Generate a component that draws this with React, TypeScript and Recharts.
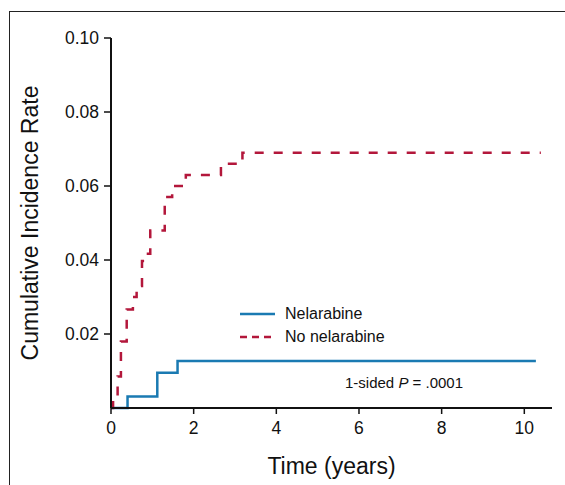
import { LineChart, Line, XAxis, YAxis } from "recharts";

// time in years, cumulative incidence
const nelarabineTime = [0, 0.4, 1.12, 1.61, 10.28];
const nelarabineRate = [0, 0.0031, 0.0095, 0.0127, 0.0127];

const noNelarabineTime = [0, 0.05, 0.16, 0.24, 0.38, 0.53, 0.62, 0.75, 0.85, 0.95, 1.3, 1.48, 1.81, 2.66, 3.18, 10.4];
const noNelarabineRate = [0, 0.002, 0.0085, 0.018, 0.0266, 0.03, 0.033, 0.0397, 0.0417, 0.048, 0.057, 0.06, 0.063, 0.066, 0.069, 0.069];

const xTicks = [0, 2, 4, 6, 8, 10];
const yTicks = [0.02, 0.04, 0.06, 0.08, 0.1];

const BLUE = "#1a7ab2";
const RED = "#b3173b";
const FONT = "'Liberation Sans', Arial, sans-serif";

const toRows = (ts: number[], vs: number[]) => ts.map((t, i) => ({ t, v: vs[i] }));
const nelarabine = toRows(nelarabineTime, nelarabineRate);
const noNelarabine = toRows(noNelarabineTime, noNelarabineRate);

const tickFont = { fontFamily: FONT, fontSize: 17.5, fill: "#111" };

const LegendBox = () => (
  <div style={{ position: "absolute", left: 232, top: 294, fontFamily: FONT, fontSize: 16, color: "#111" }}>
    <div style={{ display: "flex", alignItems: "center", height: 23 }}>
      <svg width={45} height={10}>
        <line x1={0} y1={5} x2={35} y2={5} stroke={BLUE} strokeWidth={2.5} />
      </svg>
      <span>Nelarabine</span>
    </div>
    <div style={{ display: "flex", alignItems: "center", height: 23 }}>
      <svg width={45} height={10}>
        <line x1={0} y1={5} x2={35} y2={5} stroke={RED} strokeWidth={2.5} strokeDasharray="7 5" />
      </svg>
      <span>No nelarabine</span>
    </div>
  </div>
);

export default function App() {
  return (
    <div style={{ position: "fixed", left: 8, top: 8, width: 557, height: 477, overflow: "hidden", background: "#fff" }}>
      <div
        style={{
          position: "absolute",
          left: 1,
          top: 3,
          width: 600,
          height: 600,
          borderLeft: "1.5px solid #222",
          borderTop: "1.5px solid #222",
          boxSizing: "border-box",
        }}
      />
      <LineChart width={557} height={477} margin={{ top: 30, right: 13, bottom: 27, left: 43 }}>
        <XAxis
          dataKey="t"
          type="number"
          domain={[0, 10.67]}
          ticks={xTicks}
          allowDataOverflow
          axisLine={{ stroke: "#111", strokeWidth: 2 }}
          tickLine={{ stroke: "#111", strokeWidth: 1.5 }}
          tickSize={6}
          tickMargin={8}
          tick={tickFont}
          height={50}
          label={{ value: "Time (years)", position: "insideBottom", offset: -16, style: { fontFamily: FONT, fontSize: 23, fill: "#111" } }}
        />
        <YAxis
          type="number"
          domain={[0, 0.1]}
          ticks={yTicks}
          tickFormatter={(v: number) => v.toFixed(2)}
          axisLine={{ stroke: "#111", strokeWidth: 2 }}
          tickLine={{ stroke: "#111", strokeWidth: 1.5 }}
          tickSize={7}
          tickMargin={5}
          tick={tickFont}
          width={60}
          label={{ value: "Cumulative Incidence Rate", angle: -90, position: "insideLeft", offset: -21, style: { fontFamily: FONT, fontSize: 23, fill: "#111", textAnchor: "middle" } }}
        />
        <Line
          data={nelarabine}
          dataKey="v"
          name="Nelarabine"
          type="stepAfter"
          stroke={BLUE}
          strokeWidth={2.5}
          dot={false}
          isAnimationActive={false}
        />
        <Line
          data={noNelarabine}
          dataKey="v"
          name="No nelarabine"
          type="stepAfter"
          stroke={RED}
          strokeWidth={2.5}
          strokeDasharray="9 10"
          dot={false}
          isAnimationActive={false}
        />
      </LineChart>
      <LegendBox />
      <div style={{ position: "absolute", left: 337, top: 366, fontFamily: FONT, fontSize: 15, color: "#111" }}>
        1-sided <i>P</i> = .0001
      </div>
    </div>
  );
}
